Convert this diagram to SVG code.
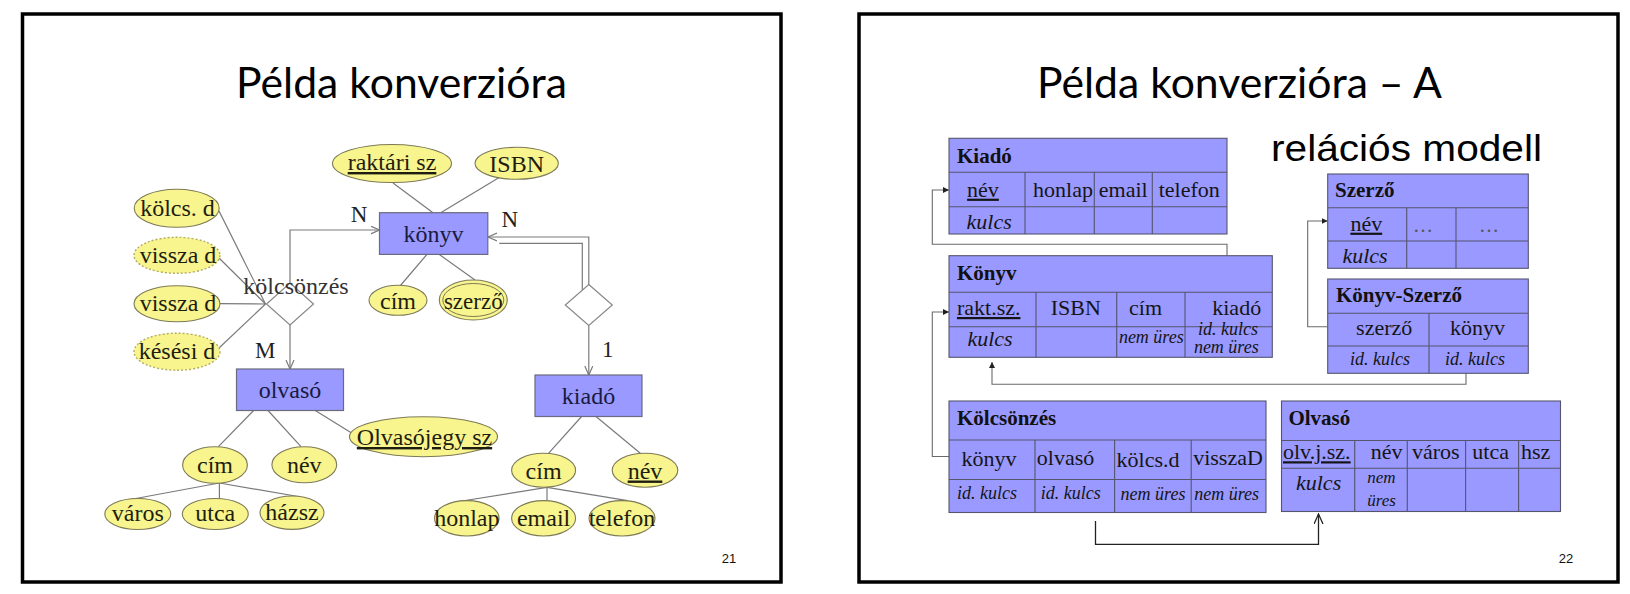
<svg xmlns="http://www.w3.org/2000/svg" width="1630" height="594" viewBox="0 0 1630 594">
<defs>
<style>
.frame{fill:#fff;stroke:#000;stroke-width:3.5}
.title{font-family:Lato,"Open Sans",sans-serif;font-size:42px;fill:#000}
.pg{font-family:"Liberation Sans",Arial,sans-serif;font-size:13px;fill:#111;text-anchor:middle}
.ent{fill:#9999ff;stroke:#6a6a80;stroke-width:1.2}
.etx{font-family:"Liberation Serif","Times New Roman",serif;font-size:24px;fill:#1a1a40;text-anchor:middle}
.att{fill:#f8f48e;stroke:#7d7a55;stroke-width:1.1}
.attd{fill:#f8f48e;stroke:#b3ad60;stroke-width:1.4;stroke-dasharray:2 2}
.atx{font-family:"Liberation Serif","Times New Roman",serif;font-size:24px;fill:#1e1e10;text-anchor:middle}
.u{text-decoration:underline}
.dia{fill:#fff;stroke:#888;stroke-width:1.2}
.lbl{font-family:"Liberation Serif","Times New Roman",serif;font-size:23px;fill:#222;text-anchor:middle}
.ln{fill:none;stroke:#7a7a7a;stroke-width:1.2}
.tbl{fill:#9999ff;stroke:#55556e;stroke-width:1.1}
.grid{stroke:#55556e;stroke-width:1.1;fill:none}
.th{font-family:"Liberation Serif","Times New Roman",serif;font-size:21px;font-weight:bold;fill:#111}
.td{font-family:"Liberation Serif","Times New Roman",serif;font-size:22px;fill:#151515;text-anchor:middle}
.ti{font-family:"Liberation Serif","Times New Roman",serif;font-size:22px;font-style:italic;fill:#151515;text-anchor:middle}
.ts{font-family:"Liberation Serif","Times New Roman",serif;font-size:18px;font-style:italic;fill:#151515;text-anchor:middle}
.dots{font-family:"Liberation Serif","Times New Roman",serif;font-size:20px;fill:#555;text-anchor:middle}
.rl{fill:none;stroke:#6a6a6a;stroke-width:1.1}
.rlk{fill:none;stroke:#222;stroke-width:1.3}
</style>
<marker id="av" markerUnits="userSpaceOnUse" markerWidth="12" markerHeight="10" refX="9" refY="4.5" orient="auto">
<path d="M0,0.5 L9,4.5 L0,8.5" fill="none" stroke="#7a7a7a" stroke-width="1.2"/>
</marker>
<marker id="af" markerUnits="userSpaceOnUse" markerWidth="8" markerHeight="8" refX="6" refY="3" orient="auto">
<path d="M0,0 L6,3 L0,6 z" fill="#222"/>
</marker>
<marker id="ao" markerUnits="userSpaceOnUse" markerWidth="12" markerHeight="10" refX="10" refY="4.5" orient="auto">
<path d="M0,0 L10,4.5 L0,9" fill="none" stroke="#222" stroke-width="1.3"/>
</marker>
</defs>

<!-- slide frames -->
<rect class="frame" x="22.5" y="14" width="758.5" height="568"/>
<rect class="frame" x="859" y="14" width="759" height="568"/>

<text class="title" x="236" y="98" textLength="331" lengthAdjust="spacingAndGlyphs">Példa konverzióra</text>
<text class="title" x="1037" y="98" textLength="405" lengthAdjust="spacingAndGlyphs">Példa konverzióra – A</text>
<text x="1271" y="161" font-family="'Liberation Sans',Arial,sans-serif" font-size="37" fill="#000" textLength="271" lengthAdjust="spacingAndGlyphs">relációs modell</text>
<text class="pg" x="729" y="563">21</text>
<text class="pg" x="1566" y="563">22</text>

<!-- ER connectors -->
<g id="er-connectors">
<line class="ln" x1="393" y1="183" x2="433" y2="212.7"/>
<line class="ln" x1="500" y1="177" x2="440.7" y2="212.7"/>
<line class="ln" x1="427" y1="254.3" x2="400" y2="286"/>
<line class="ln" x1="439" y1="254.3" x2="475" y2="280"/>
<line class="ln" x1="219" y1="211" x2="265.5" y2="304"/>
<line class="ln" x1="219" y1="258" x2="265.5" y2="304"/>
<line class="ln" x1="219" y1="303.7" x2="265.5" y2="304"/>
<line class="ln" x1="219" y1="348" x2="265.5" y2="304"/>
<polyline class="ln" points="290,283 290,230 379.5,230" marker-end="url(#av)"/>
<line class="ln" x1="290" y1="325" x2="290" y2="369" marker-end="url(#av)"/>
<line class="ln" x1="253.6" y1="410.5" x2="218.4" y2="446.7"/>
<line class="ln" x1="268" y1="410.5" x2="301" y2="446.7"/>
<line class="ln" x1="315.3" y1="410.5" x2="352" y2="433.3"/>
<line class="ln" x1="219.4" y1="483" x2="127.6" y2="500"/>
<line class="ln" x1="219.4" y1="483" x2="219.4" y2="498.5"/>
<line class="ln" x1="219.4" y1="483" x2="301" y2="497"/>
<polyline class="ln" points="588.8,284.5 588.8,237 488,237" marker-end="url(#av)"/>
<polyline class="ln" points="582.3,290.5 582.3,243.3 499.3,243.3"/>
<line class="ln" x1="588.8" y1="325.5" x2="588.8" y2="375" marker-end="url(#av)"/>
<line class="ln" x1="581.6" y1="416.5" x2="548.5" y2="453.3"/>
<line class="ln" x1="596" y1="416.5" x2="640.3" y2="453.3"/>
<line class="ln" x1="547" y1="487.3" x2="459" y2="501.5"/>
<line class="ln" x1="547" y1="487.3" x2="547" y2="500.6"/>
<line class="ln" x1="547" y1="487.3" x2="627.6" y2="500.6"/>
</g>

<!-- ER nodes -->
<g id="raktari-sz"><ellipse class="att" cx="392" cy="163.5" rx="59.5" ry="19"/><text class="atx u" x="392" y="170">raktári sz</text></g>
<g id="isbn"><ellipse class="att" cx="516.7" cy="163.3" rx="41.7" ry="16"/><text class="atx" x="516.7" y="171.5">ISBN</text></g>
<g id="konyv"><rect class="ent" x="379.5" y="212.7" width="108.3" height="41.7"/><text class="etx" x="433.6" y="241.5">könyv</text></g>
<g id="cim-konyv"><ellipse class="att" cx="398" cy="300.3" rx="29" ry="15"/><text class="atx" x="398" y="308.5">cím</text></g>
<g id="szerzo"><ellipse class="att" cx="473.3" cy="300" rx="34" ry="20"/><ellipse cx="473.3" cy="300" rx="30.5" ry="16.5" fill="none" stroke="#7d7a55" stroke-width="1"/><text class="atx" x="473.3" y="308.5" style="font-size:23px">szerző</text></g>
<g id="kolcs-d"><ellipse class="att" cx="176.7" cy="208.3" rx="42.5" ry="19"/><text class="atx" x="177.5" y="216">kölcs. d</text></g>
<g id="vissza-d-1"><ellipse class="attd" cx="177" cy="255.3" rx="43" ry="18"/><text class="atx" x="178" y="263">vissza d</text></g>
<g id="vissza-d-2"><ellipse class="att" cx="177" cy="303.7" rx="43" ry="18"/><text class="atx" x="178" y="311">vissza d</text></g>
<g id="kesesi-d"><ellipse class="attd" cx="177" cy="351.7" rx="43" ry="18.5"/><text class="atx" x="177" y="359">késési d</text></g>
<g id="kolcsonzes"><polygon class="dia" points="290,283 313.5,304 290,325 266.5,304"/><text class="atx" x="296" y="294" style="fill:#333">kölcsönzés</text></g>
<g id="olvaso"><rect class="ent" x="236.5" y="369" width="107" height="41.5"/><text class="etx" x="290" y="398">olvasó</text></g>
<g id="cim-olvaso"><ellipse class="att" cx="215" cy="465" rx="32.4" ry="18.3"/><text class="atx" x="215" y="473">cím</text></g>
<g id="nev-olvaso"><ellipse class="att" cx="304.3" cy="464.7" rx="32.4" ry="18"/><text class="atx" x="304.3" y="473">név</text></g>
<g id="olvasojegy"><ellipse class="att" cx="423.5" cy="436.7" rx="74" ry="20"/><text class="atx u" x="424.5" y="445">Olvasójegy sz</text></g>
<g id="varos"><ellipse class="att" cx="137.8" cy="514" rx="33" ry="15.5"/><text class="atx" x="137.8" y="521">város</text></g>
<g id="utca"><ellipse class="att" cx="215.3" cy="514" rx="33" ry="15.5"/><text class="atx" x="215.3" y="521">utca</text></g>
<g id="hazsz"><ellipse class="att" cx="292" cy="512.7" rx="32" ry="16.7"/><text class="atx" x="292" y="520">házsz</text></g>
<g id="kiado-rel"><polygon class="dia" points="588.8,284.5 612.3,305 588.8,325.5 565.3,305"/></g>
<g id="kiado"><rect class="ent" x="535" y="375" width="107" height="41.5"/><text class="etx" x="588.5" y="404">kiadó</text></g>
<g id="cim-kiado"><ellipse class="att" cx="543.6" cy="470.3" rx="32" ry="17"/><text class="atx" x="543.6" y="478.5">cím</text></g>
<g id="nev-kiado"><ellipse class="att" cx="645" cy="470.3" rx="32.8" ry="17"/><text class="atx u" x="645" y="478.5">név</text></g>
<g id="honlap"><ellipse class="att" cx="466.8" cy="518.3" rx="32.3" ry="17.7"/><text class="atx" x="466.8" y="526">honlap</text></g>
<g id="email"><ellipse class="att" cx="543.6" cy="518.3" rx="32" ry="17.7"/><text class="atx" x="543.6" y="526">email</text></g>
<g id="telefon"><ellipse class="att" cx="622" cy="518.3" rx="33" ry="17.7"/><text class="atx" x="622" y="526">telefon</text></g>

<g id="er-labels">
<text class="lbl" x="359" y="221.7">N</text>
<text class="lbl" x="509.7" y="227.3">N</text>
<text class="lbl" x="265.3" y="358.3">M</text>
<text class="lbl" x="607.8" y="357.3">1</text>
</g>

<!-- relational connectors -->
<g id="rel-connectors">
<polyline class="rl" points="1227,255.7 1227,244.3 932.3,244.3 932.3,190 949,190" marker-end="url(#af)"/>
<polyline class="rl" points="949,456.5 932.3,456.5 932.3,312 949,312" marker-end="url(#af)"/>
<polyline class="rl" points="1466,373.3 1466,384.3 992,384.3 992,362" marker-end="url(#af)"/>
<polyline class="rl" points="1327.7,326.7 1307.7,326.7 1307.7,221 1327.7,221" marker-end="url(#af)"/>
<polyline class="rlk" points="1095.5,521 1095.5,544.3 1318.5,544.3 1318.5,514" marker-end="url(#ao)"/>
</g>

<!-- relational tables -->
<g id="tbl-kiado">
<rect class="tbl" x="949" y="138.3" width="278" height="95.7"/>
<path class="grid" d="M949,172.3H1227M949,206.7H1227M1025,172.3V234M1094.3,172.3V234M1152.3,172.3V234"/>
<text class="th" x="957" y="163.3">Kiadó</text>
<text class="td u" x="983" y="196.7">név</text>
<text class="td" x="1063" y="196.7">honlap</text>
<text class="td" x="1123.3" y="196.7">email</text>
<text class="td" x="1189.2" y="196.7">telefon</text>
<text class="ti" x="989.2" y="229.3">kulcs</text>
</g>

<g id="tbl-konyv">
<rect class="tbl" x="949" y="255.7" width="323.3" height="101.6"/>
<path class="grid" d="M949,292.3H1272.3M949,326.7H1272.3M1036,292.3V357.3M1116.7,292.3V357.3M1185,292.3V357.3"/>
<text class="th" x="957" y="280">Könyv</text>
<text class="td u" x="988.7" y="315">rakt.sz.</text>
<text class="td" x="1075.8" y="315">ISBN</text>
<text class="td" x="1145.5" y="315">cím</text>
<text class="td" x="1236.7" y="315">kiadó</text>
<text class="ti" x="990" y="346">kulcs</text>
<text class="ts" x="1151.3" y="343.3">nem üres</text>
<text class="ts" x="1228" y="335">id. kulcs</text>
<text class="ts" x="1226.3" y="352.7">nem üres</text>
</g>

<g id="tbl-szerzo">
<rect class="tbl" x="1327.7" y="174" width="200.6" height="94.3"/>
<path class="grid" d="M1327.7,207.7H1528.3M1327.7,241H1528.3M1406.7,207.7V268.3M1456,207.7V268.3"/>
<text class="th" x="1335" y="197.3">Szerző</text>
<text class="td u" x="1366.3" y="230.7">név</text>
<text class="dots" x="1423" y="232">…</text>
<text class="dots" x="1489" y="232">…</text>
<text class="ti" x="1365" y="263.3">kulcs</text>
</g>

<g id="tbl-konyv-szerzo">
<rect class="tbl" x="1327.7" y="279" width="200.6" height="94.3"/>
<path class="grid" d="M1327.7,313.3H1528.3M1327.7,346H1528.3M1429,313.3V373.3"/>
<text class="th" x="1336" y="301.7">Könyv-Szerző</text>
<text class="td" x="1384.2" y="335">szerző</text>
<text class="td" x="1477.5" y="335">könyv</text>
<text class="ts" x="1380" y="365">id. kulcs</text>
<text class="ts" x="1475" y="365">id. kulcs</text>
</g>

<g id="tbl-kolcsonzes">
<rect class="tbl" x="949" y="401" width="317" height="111.5"/>
<path class="grid" d="M949,440H1266M949,479.5H1266M1035,440V512.5M1114.6,440V512.5M1191.2,440V512.5"/>
<text class="th" x="957" y="425">Kölcsönzés</text>
<text class="td" x="989" y="466">könyv</text>
<text class="td" x="1065.5" y="465">olvasó</text>
<text class="td" x="1148" y="467">kölcs.d</text>
<text class="td" x="1228" y="465">visszaD</text>
<text class="ts" x="987" y="498.5">id. kulcs</text>
<text class="ts" x="1070.8" y="498.5">id. kulcs</text>
<text class="ts" x="1153" y="500">nem üres</text>
<text class="ts" x="1226.7" y="500">nem üres</text>
</g>

<g id="tbl-olvaso">
<rect class="tbl" x="1281.5" y="401" width="279" height="110.5"/>
<path class="grid" d="M1281.5,440.5H1560.5M1281.5,468.3H1560.5M1354.7,440.5V511.5M1407.3,440.5V511.5M1465.6,440.5V511.5M1518.6,440.5V511.5"/>
<text class="th" x="1288.4" y="425">Olvasó</text>
<text class="td u" x="1316.8" y="459.3">olv.j.sz.</text>
<text class="td" x="1386.6" y="459.3">név</text>
<text class="td" x="1435.8" y="459.3">város</text>
<text class="td" x="1490.6" y="459.3">utca</text>
<text class="td" x="1535.7" y="459.3">hsz</text>
<text class="ti" x="1318.6" y="490">kulcs</text>
<text class="ts" x="1381.5" y="483.3" style="font-size:17px">nem</text>
<text class="ts" x="1381.5" y="506" style="font-size:17px">üres</text>
</g>
</svg>
